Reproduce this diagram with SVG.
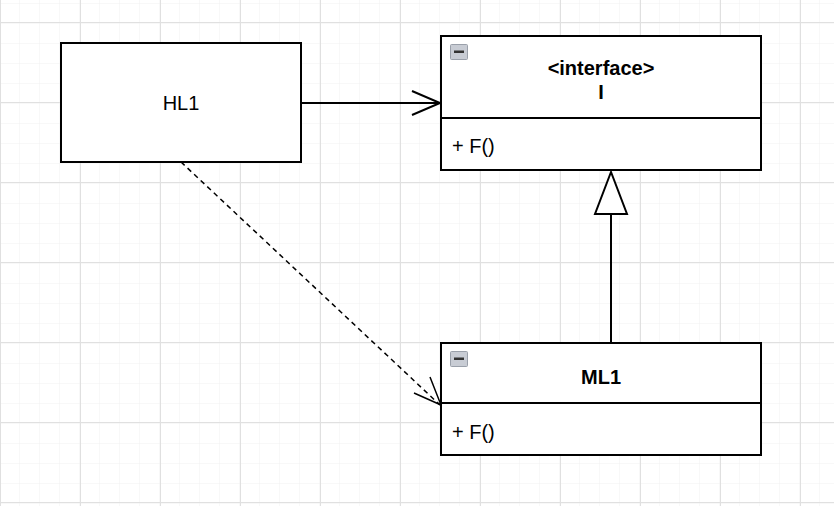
<svg xmlns="http://www.w3.org/2000/svg" width="834" height="506" viewBox="0 0 834 506">
<defs>
<pattern id="minor" width="20" height="20" patternUnits="userSpaceOnUse" x="0" y="2"><path d="M20 0V20M0 20H20" fill="none" stroke="#f0f0f0" stroke-width="1"/></pattern>
<pattern id="major" width="80" height="80" patternUnits="userSpaceOnUse" x="0" y="22"><rect width="80" height="80" fill="url(#minor)"/><path d="M0.5 0V80M0 0.5H80" fill="none" stroke="#e0e0e0" stroke-width="1"/></pattern>
<g id="icon"><rect x="0.5" y="0.5" width="17" height="15" rx="1" fill="#c8ccd4" stroke="#9aa0aa"/><rect x="4" y="6.5" width="10" height="2.5" fill="#333"/></g>
</defs>
<style>
.box{fill:#fff;stroke:#000;stroke-width:2}
.t{font-family:"Liberation Sans",Arial,sans-serif;font-size:20px;fill:#000}
.b{font-weight:bold;text-anchor:middle}
.ln{fill:none;stroke:#000;stroke-width:2}
</style>
<rect width="834" height="506" fill="#fff"/>
<rect width="834" height="506" fill="url(#major)"/>
<g id="connectors">
<path class="ln" d="M301 103H440M412 91L440 103L412 115"/>
<path class="ln" d="M181 162L440 405" stroke-dasharray="5 4" style="stroke-width:1.5"/>
<path class="ln" d="M430 377L441 405L414 393" style="stroke-width:1.5"/>
<path class="ln" d="M611 343V214"/>
<path class="ln" d="M611 172L595 214H627Z" style="fill:#fff"/>
</g>
<g id="HL1"><rect class="box" x="61" y="43" width="240" height="119"/><text class="t" x="181" y="110" text-anchor="middle">HL1</text></g>
<g id="I"><rect class="box" x="441" y="36" width="320" height="134"/><path class="ln" d="M441 118H761"/><use href="#icon" x="450" y="44"/><text class="t b" x="601" y="75">&lt;interface&gt;</text><text class="t b" x="601" y="99">I</text><text class="t" x="452" y="153">+ F()</text></g>
<g id="ML1"><rect class="box" x="441" y="343" width="320" height="112"/><path class="ln" d="M441 403H761"/><use href="#icon" x="450" y="351"/><text class="t b" x="601" y="384">ML1</text><text class="t" x="452" y="439">+ F()</text></g>
</svg>
